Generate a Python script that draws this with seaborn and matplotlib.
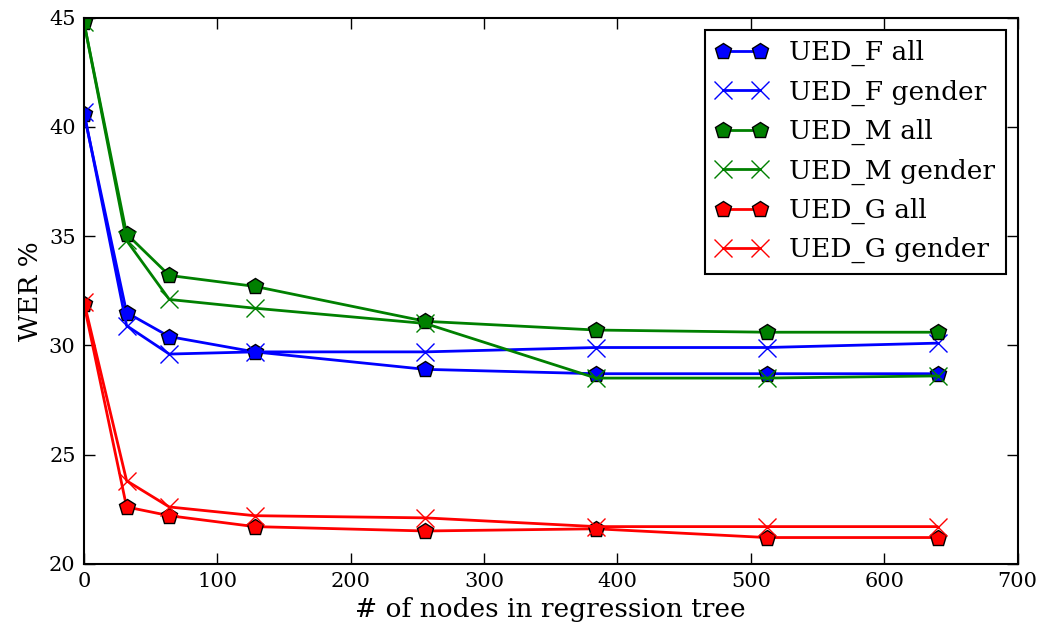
import pandas as pd
import seaborn as sns
import matplotlib.pyplot as plt

# numero de nodos en el arbol de regresion
nodes = [0, 32, 64, 128, 256, 384, 512, 640]

ued_f_all = [40.6, 31.5, 30.4, 29.7, 28.9, 28.7, 28.7, 28.7]
ued_f_gender = [40.7, 30.9, 29.6, 29.7, 29.7, 29.9, 29.9, 30.1]
ued_m_all = [44.8, 35.1, 33.2, 32.7, 31.1, 30.7, 30.6, 30.6]
ued_m_gender = [44.8, 34.8, 32.1, 31.7, 31.0, 28.5, 28.5, 28.6]
ued_g_all = [31.9, 22.6, 22.2, 21.7, 21.5, 21.6, 21.2, 21.2]
ued_g_gender = [32.0, 23.8, 22.6, 22.2, 22.1, 21.7, 21.7, 21.7]

series = [
    ("UED_F all", ued_f_all, "blue", "p"),
    ("UED_F gender", ued_f_gender, "blue", "x"),
    ("UED_M all", ued_m_all, "green", "p"),
    ("UED_M gender", ued_m_gender, "green", "x"),
    ("UED_G all", ued_g_all, "red", "p"),
    ("UED_G gender", ued_g_gender, "red", "x"),
]

sns.set_style("ticks")
plt.rcParams['font.family'] = ['DejaVu Serif']
plt.rcParams['text.color'] = 'black'
plt.rcParams['axes.labelcolor'] = 'black'
plt.rcParams['xtick.color'] = 'black'
plt.rcParams['ytick.color'] = 'black'
plt.rcParams['xtick.direction'] = 'in'
plt.rcParams['ytick.direction'] = 'in'
plt.rcParams['xtick.top'] = True
plt.rcParams['ytick.right'] = True
plt.rcParams['legend.numpoints'] = 2

fig = plt.figure(figsize=(10.49, 6.32), dpi=100)
ax = fig.add_axes([0.080, 0.108, 0.890, 0.864])

for name, vals, color, marker in series:
    df = pd.DataFrame({'nodes': nodes, 'wer': vals})
    if marker == 'p':
        sns.lineplot(data=df, x='nodes', y='wer', ax=ax, color=color, marker='p',
                     markersize=12, markeredgecolor='black', markeredgewidth=1,
                     linewidth=2, label=name)
    else:
        sns.lineplot(data=df, x='nodes', y='wer', ax=ax, color=color, marker='x',
                     markersize=13, markeredgecolor=color, markeredgewidth=1,
                     linewidth=2, label=name)

ax.set_xlim(0, 700)
ax.set_ylim(20, 45)
ax.set_xticks(range(0, 701, 100))
ax.set_yticks(range(20, 46, 5))
ax.set_xlabel('# of nodes in regression tree', fontsize=19)
ax.set_ylabel('WER %', fontsize=19)
ax.tick_params(labelsize=15, length=8, width=1, pad=6)
for s in ax.spines.values():
    s.set_linewidth(1.5)
    s.set_color('black')

leg = ax.legend(loc='upper right', fontsize=19, frameon=True, fancybox=False,
                edgecolor='black', framealpha=1, handlelength=2.0, borderpad=0.4,
                labelspacing=0.5, borderaxespad=0.45)
leg.get_frame().set_linewidth(1.5)

plt.savefig('out.png', dpi=100)
plt.close()
